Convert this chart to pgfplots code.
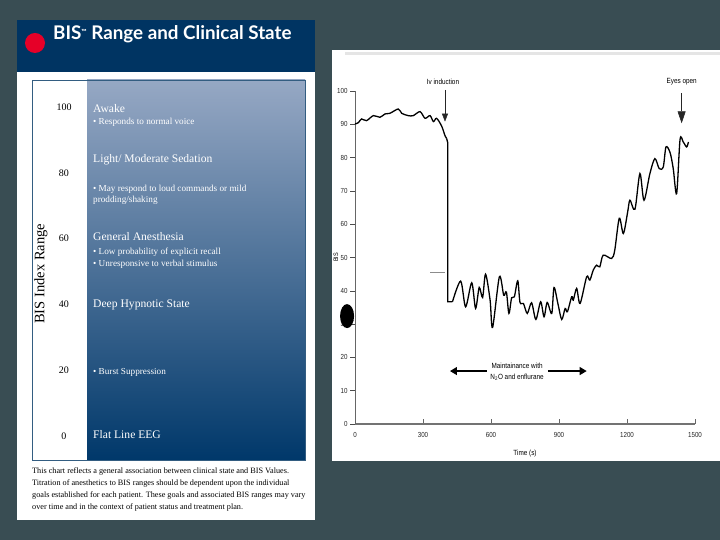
\documentclass[border=0pt]{standalone}
\usepackage{fontspec}
\setmainfont{Liberation Serif}
\newfontfamily\titlefont{Lato}
\newfontfamily\chartfont[FakeStretch=0.85]{Liberation Sans}
\usepackage{pgfplots}
\pgfplotsset{compat=1.18}
\usetikzlibrary{arrows.meta}

\definecolor{slidebg}{RGB}{57,77,83}
\definecolor{navy}{RGB}{0,52,98}
\definecolor{gradtop}{RGB}{150,168,196}
\definecolor{gradmid}{RGB}{62,96,140}
\definecolor{gradbot}{RGB}{0,56,106}
\definecolor{bisred}{RGB}{230,0,40}

\newcommand{\fs}[1]{\fontsize{#1}{#1}\selectfont}

\begin{document}
\begin{tikzpicture}[x=1pt,y=1pt]
\useasboundingbox (0,0) rectangle (720,540);
\fill[slidebg] (0,0) rectangle (720,540);
\coordinate (LA) at (32,80);
\coordinate (RA) at (355,116);
% ---------------- left panel ----------------
\fill[white] (17,20) rectangle (315,520);
\fill[navy] (17,468) rectangle (315,520);
\fill[bisred] (35,497) circle (10);
\node[anchor=base west, inner sep=0, text=white, font=\titlefont\bfseries\fs{18.8}] at (53,500)
  {BIS\raisebox{0.6ex}{\fs{7}\texttrademark} Range and Clinical State};
\node[anchor=base west, inner sep=0, font=\fs{8.2}] at (32,66) {This chart reflects a general association between clinical state and BIS Values.};
\node[anchor=base west, inner sep=0, font=\fs{8.2}] at (32,54) {Titration of anesthetics to BIS ranges should be dependent upon the individual};
\node[anchor=base west, inner sep=0, font=\fs{8.2}] at (32,42) {goals established for each patient. These goals and associated BIS ranges may vary};
\node[anchor=base west, inner sep=0, font=\fs{8.2}] at (32,30) {over time and in the context of patient status and treatment plan.};
% ---------------- right panel background ----------------
\fill[white] (332,79) rectangle (720,490);
\fill[black!10] (345,485) rectangle (720,488);

\begin{axis}[at={(LA)}, anchor=south west, scale only axis,
  width=273pt, height=380pt,
  xmin=0, xmax=273, ymin=-7.29, ymax=108.2,
  axis on top, clip=false,
  axis line style={draw=navy!80, line width=0.8pt},
  xtick=\empty, ytick={0,20,...,100}, major tick length=0pt,
  /pgf/number format/assume math mode=true,
  yticklabel style={anchor=center, xshift=32pt, font=\fs{10}},
  ylabel={BIS Index Range},
  ylabel style={at={(axis description cs:0.033,0.49)}, anchor=center, font=\fs{14.5}},
]
\path[top color=gradtop, middle color=gradmid, bottom color=gradbot]
  (axis cs:55,-7.29) rectangle (axis cs:273,108.2);
\node[anchor=base west, inner sep=0, text=white, font=\fs{11.6}] at (axis cs:61,98.2) {Awake};
\node[anchor=base west, inner sep=0, text=white, font=\fs{9.2}] at (axis cs:61,94.8) {\textbullet\ Responds to normal voice};
\node[anchor=base west, inner sep=0, text=white, font=\fs{11.6}] at (axis cs:61,83.0) {Light/ Moderate Sedation};
\node[anchor=base west, inner sep=0, text=white, font=\fs{9.2}] at (axis cs:61,74.3) {\textbullet\ May respond to loud commands or mild};
\node[anchor=base west, inner sep=0, text=white, font=\fs{9.2}] at (axis cs:61,71.1) {prodding/shaking};
\node[anchor=base west, inner sep=0, text=white, font=\fs{11.6}] at (axis cs:61,59.4) {General Anesthesia};
\node[anchor=base west, inner sep=0, text=white, font=\fs{9.2}] at (axis cs:61,55.3) {\textbullet\ Low probability of explicit recall};
\node[anchor=base west, inner sep=0, text=white, font=\fs{9.2}] at (axis cs:61,51.5) {\textbullet\ Unresponsive to verbal stimulus};
\node[anchor=base west, inner sep=0, text=white, font=\fs{11.6}] at (axis cs:61,39.2) {Deep Hypnotic State};
\node[anchor=base west, inner sep=0, text=white, font=\fs{9.2}] at (axis cs:61,18.8) {\textbullet\ Burst Suppression};
\node[anchor=base west, inner sep=0, text=white, font=\fs{11.6}] at (axis cs:61,-0.9) {Flat Line EEG};
\end{axis}

% ---------------- right chart ----------------
\begin{axis}[at={(RA)}, anchor=south west, scale only axis,
  width=340pt, height=333pt,
  xmin=0, xmax=1500, ymin=0, ymax=100,
  axis x line*=bottom, axis y line*=left,
  xtick={0,300,...,1500}, ytick={0,10,...,100},
  tick align=inside, major tick length=5pt,
  ytick style={xshift=-5pt, draw=black!70, thin},
  xtick style={draw=black!60, thin},
  x axis line style={draw=black!55, line width=1.6pt},
  y axis line style={draw=black!60, line width=0.5pt},
  /pgf/number format/assume math mode=true,
  /pgf/number format/1000 sep={},
  scaled x ticks=false,
  ticklabel style={font=\chartfont\fs{7.3}, text=black!85},
  xticklabel style={yshift=-5pt},
  yticklabel style={xshift=-4pt},
  xlabel={Time (s)}, ylabel={BIS},
  xlabel style={at={(axis description cs:0.5,-0.09)}, anchor=center, font=\chartfont\fs{7.5}},
  ylabel style={at={(axis description cs:-0.056,0.5)}, anchor=center, font=\chartfont\fs{6.5}},
  clip=false,
]
\addplot[black, line width=1.3pt, smooth, tension=0.5] coordinates {
(0,90.1) (15,90.5) (29,91.6) (51,91.1) (81,92.6) (110,92.1) (132,93.1) (154,93.3)
(191,94.6) (206,93.3) (235,92.6) (257,92.6) (287,93.8) (309,91.8) (331,92.6)
(346,90.8) (360,91.8) (382,89.5) (397,86.6) (404,85.8)};
\addplot[black, line width=1.3pt] coordinates {(404,85.8) (409,84.5) (409,36.7) (430,36.7)};
\addplot[black, line width=1.3pt, smooth, tension=0.5] coordinates {
(430,36.7) (466,42.9) (488,35.2) (515,42.4) (532,34.7) (548,41) (563,38) (576,45)
(596,37.2) (607,29) (637,44.2) (656,38.7) (668,39.6) (679,33.2) (691,37.9) (703,38.2)
(718,43) (728,36.5) (743,36.2) (760,33.2) (779,36.4) (798,31.4) (819,36.7) (834,32.2)
(848,36.5) (868,33.2) (878,41) (895,36.2) (912,31.4) (927,34.7) (937,33.7) (956,38.2)
(963,37.2) (978,40.7) (993,36.2) (1022,44.2) (1036,43.2) (1051,46.2) (1066,47.7)
(1080,47.2) (1095,50.7) (1132,49.7) (1146,52.2) (1166,61.8) (1184,57.2) (1203,63.7)
(1213,67.2) (1235,64.5) (1257,75.2) (1275,67.2) (1301,75.2) (1323,79.7) (1342,76.7)
(1360,77.2) (1372,83.2) (1390,81.5) (1404,76.7) (1419,69.2) (1434,85.4) (1448,84.7)
(1463,83.2) (1471,84.7)};
% annotations
\node[anchor=base, inner sep=0, font=\chartfont\fs{7.5}] at (axis cs:388,101.8) {Iv induction};
\draw[black!85, line width=0.5pt, -{Triangle[width=6pt,length=8pt]}] (axis cs:397,100.3) -- (axis cs:397,90.8);
\node[anchor=base, inner sep=0, font=\chartfont\fs{7.5}] at (axis cs:1441,102.3) {Eyes open};
\draw[black!85, line width=0.6pt, -{Triangle[width=8pt,length=12pt]}] (axis cs:1441,99.3) -- (axis cs:1441,90.3);
\draw[black!45, line width=0.8pt] (axis cs:331,45.4) -- (axis cs:397,45.4);
\fill[black] (axis cs:-35,32.4) ellipse [x radius=7pt, y radius=12pt];
\draw[black, line width=1.2pt, -{Triangle[width=8pt,length=7pt]}] (axis cs:581,15.9) -- (axis cs:419,15.9);
\draw[black, line width=1.2pt, -{Triangle[width=8pt,length=7pt]}] (axis cs:851,15.9) -- (axis cs:1022,15.9);
\node[anchor=base, inner sep=0, font=\chartfont\fs{7.5}] at (axis cs:715,16.7) {Maintainance with};
\node[anchor=base, inner sep=0, font=\chartfont\fs{7.5}] at (axis cs:715,13.5) {N\textsubscript{2}O and enflurane};
\end{axis}
\end{tikzpicture}
\end{document}
